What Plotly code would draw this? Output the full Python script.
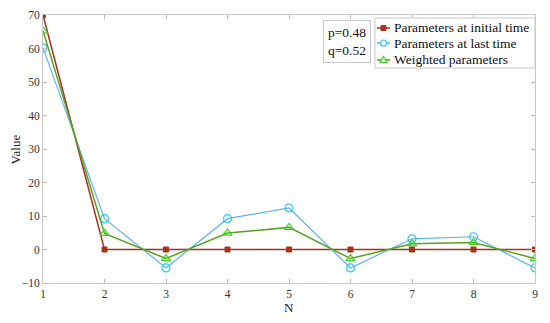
import plotly.graph_objects as go

n_vals = [1, 2, 3, 4, 5, 6, 7, 8, 9]
initial_params = [70, 0, 0, 0, 0, 0, 0, 0, 0]
last_params = [60.2, 9.2, -5.5, 9.2, 12.4, -5.5, 3.2, 3.8, -5.5]
weighted_params = [65.3, 4.8, -2.7, 4.9, 6.6, -2.7, 1.7, 2.1, -2.7]
series_names = ["Parameters at initial time", "Parameters at last time", "Weighted parameters"]
x_ticks = [1, 2, 3, 4, 5, 6, 7, 8, 9]
y_ticks = [-10, 0, 10, 20, 30, 40, 50, 60, 70]

font_family = "Liberation Serif"
c_init, c_init_m = "#A8321C", "#A8321C"
c_last, c_last_m = "#5FB4E6", "#2EC8F0"
c_w, c_w_m = "#5AA022", "#3CD41E"

fig = go.Figure()
fig.add_trace(go.Scatter(
    x=n_vals, y=initial_params, mode="lines+markers", name=series_names[0],
    line=dict(color=c_init, width=1.5),
    marker=dict(symbol="square", size=5, color=c_init_m, line=dict(color=c_init_m, width=1)),
))
fig.add_trace(go.Scatter(
    x=n_vals, y=last_params, mode="lines+markers", name=series_names[1],
    line=dict(color=c_last, width=1.2),
    marker=dict(symbol="circle-open", size=8, color=c_last_m, line=dict(width=1.2)),
))
fig.add_trace(go.Scatter(
    x=n_vals, y=weighted_params, mode="lines+markers", name=series_names[2],
    line=dict(color=c_w, width=1.5),
    marker=dict(symbol="triangle-up-open", size=8, color=c_w_m, line=dict(width=1.2)),
))

# custom compact legend (paper coordinates)
leg_x0, leg_x1, leg_y0, leg_y1 = 0.6748, 1.0, 0.8022, 0.9888
row_y = [0.9515, 0.8955, 0.8321]
sym_x0, sym_x1, sym_xc, txt_x = 0.6789, 0.7053, 0.6921, 0.7094
fig.add_shape(type="rect", xref="paper", yref="paper", x0=leg_x0, x1=leg_x1, y0=leg_y0, y1=leg_y1,
              line=dict(color="#C8C8C8", width=1), fillcolor="white", layer="above")
legend_styles = [(c_init, c_init_m, "square"), (c_last, c_last_m, "circle"), (c_w, c_w_m, "triangle")]
for name, yy, (lc, mc, sym) in zip(series_names, row_y, legend_styles):
    fig.add_shape(type="line", xref="paper", yref="paper", x0=sym_x0, x1=sym_x1, y0=yy, y1=yy,
                  line=dict(color=lc, width=1.5), layer="above")
    if sym == "square":
        fig.add_shape(type="rect", xref="paper", yref="paper", xsizemode="pixel", ysizemode="pixel",
                      xanchor=sym_xc, yanchor=yy, x0=-2.5, x1=2.5, y0=-2.5, y1=2.5,
                      line=dict(color=mc, width=1), fillcolor=mc, layer="above")
    elif sym == "circle":
        fig.add_shape(type="circle", xref="paper", yref="paper", xsizemode="pixel", ysizemode="pixel",
                      xanchor=sym_xc, yanchor=yy, x0=-3, x1=3, y0=-3, y1=3,
                      line=dict(color=mc, width=1.2), fillcolor="white", layer="above")
    else:
        fig.add_shape(type="path", xref="paper", yref="paper", xsizemode="pixel", ysizemode="pixel",
                      xanchor=sym_xc, yanchor=yy, path="M -3.5,-2.5 L 3.5,-2.5 L 0,3.5 Z",
                      line=dict(color=mc, width=1.2), fillcolor="white", layer="above")
    fig.add_annotation(x=txt_x, y=yy, xref="paper", yref="paper", xanchor="left", yanchor="middle",
                       text=name, showarrow=False,
                       font=dict(family=font_family, size=13.5, color="#111"))

fig.add_annotation(
    x=0.6667, y=0.9813, xref="paper", yref="paper", xanchor="right", yanchor="top",
    text="p=0.48<br>q=0.52", showarrow=False, align="left",
    font=dict(family=font_family, size=13.5, color="#111"),
    bordercolor="#C8C8C8", borderwidth=1, borderpad=4, bgcolor="white",
)
fig.add_annotation(
    x=0.5, y=-0.093, xref="paper", yref="paper", xanchor="center", yanchor="middle",
    text="N", showarrow=False,
    font=dict(family=font_family, size=13, color="#222"),
)
fig.add_annotation(
    x=-0.056, y=0.5, xref="paper", yref="paper", xanchor="center", yanchor="middle",
    text="Value", showarrow=False, textangle=-90,
    font=dict(family=font_family, size=13, color="#222"),
)

fig.update_layout(
    width=542, height=315,
    margin=dict(l=35, r=15, t=7, b=40),
    paper_bgcolor="white", plot_bgcolor="white",
    font=dict(family=font_family, size=11, color="#333"),
    showlegend=False,
    xaxis=dict(
        range=[1, 9], tickvals=x_ticks, ticks="inside", ticklen=4,
        tickcolor="#BBBBBB", showline=True, linecolor="#C8C8C8", linewidth=1,
        mirror="ticks", showgrid=False, zeroline=False, automargin=False,
        tickfont=dict(family=font_family, size=11.5, color="#333"),
    ),
    yaxis=dict(
        range=[-10, 70], tickvals=y_ticks, ticks="inside", ticklen=4,
        tickcolor="#BBBBBB", showline=True, linecolor="#C8C8C8", linewidth=1,
        mirror="ticks", showgrid=False, zeroline=False, automargin=False,
        tickfont=dict(family=font_family, size=11.5, color="#333"),
    ),
)

fig.write_html("out.html")
